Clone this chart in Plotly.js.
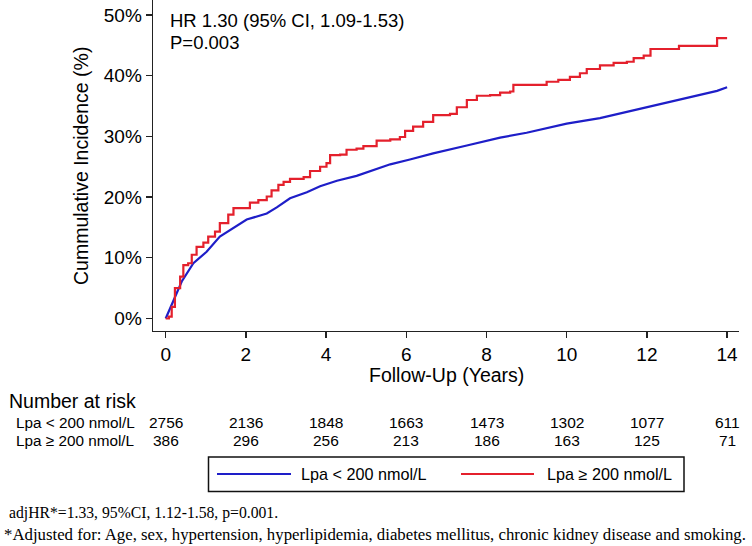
<!DOCTYPE html>
<html>
<head>
<meta charset="utf-8">
<script src="https://cdn.plot.ly/plotly-3.0.1.min.js"></script>
<style>html,body{margin:0;padding:0;background:#fff;}#chart{width:752px;height:546px;}</style>
</head>
<body>
<div id="chart"></div>
<script>
// ---- data ----
const groupNames = ["Lpa < 200 nmol/L", "Lpa \u2265 200 nmol/L"];

const lowT = [0, 0.19, 0.40, 0.69, 1.02, 1.35, 1.69, 2.02, 2.52, 2.77, 3.10, 3.52, 3.85, 4.27, 4.76, 5.26, 5.60, 6.09, 6.67, 7.51, 8.34, 9.0, 9.58, 10.0, 10.83, 11.67, 12.17, 12.5, 13.33, 13.75, 14.0];
const lowY = [0, 3.0, 6.1, 9.1, 11.0, 13.5, 14.9, 16.3, 17.3, 18.3, 19.8, 20.8, 21.8, 22.7, 23.5, 24.7, 25.4, 26.2, 27.2, 28.5, 29.8, 30.6, 31.5, 32.1, 33.0, 34.3, 35.0, 35.6, 36.9, 37.5, 38.1];

const highT = [0, 0.08, 0.15, 0.23, 0.36, 0.44, 0.56, 0.65, 0.77, 0.94, 1.06, 1.23, 1.35, 1.56, 1.69, 2.10, 2.31, 2.52, 2.64, 2.81, 2.94, 3.10, 3.44, 3.60, 3.85, 4.01, 4.10, 4.35, 4.51, 4.76, 4.93, 5.26, 5.60, 5.84, 5.97, 6.17, 6.42, 6.67, 7.09, 7.26, 7.51, 7.76, 8.09, 8.34, 8.59, 8.67, 9.50, 9.79, 10.08, 10.33, 10.50, 10.83, 11.17, 11.50, 11.67, 11.92, 12.09, 12.80, 13.75, 14.0];
const highY = [0, 0.3, 1.9, 5.0, 6.9, 8.8, 9.1, 10.5, 11.8, 12.5, 13.5, 14.3, 15.7, 17.1, 18.2, 19.1, 19.5, 20.1, 21.1, 22.0, 22.5, 23.0, 23.3, 24.3, 25.0, 25.6, 26.9, 27.0, 27.8, 28.0, 28.4, 29.3, 29.5, 29.9, 30.9, 31.6, 32.4, 33.5, 33.7, 34.8, 36.0, 36.7, 36.8, 37.2, 37.4, 38.5, 39.0, 39.3, 39.8, 40.4, 41.1, 41.7, 42.1, 42.3, 42.9, 43.3, 44.4, 44.9, 46.2, 46.2];

const xTicks = [0, 2, 4, 6, 8, 10, 12, 14];
const yTicks = [0, 10, 20, 30, 40, 50];
const riskTimes = [0, 2, 4, 6, 8, 10, 12, 14];
const riskLow = [2756, 2136, 1848, 1663, 1473, 1302, 1077, 611];
const riskHigh = [386, 296, 256, 213, 186, 163, 125, 71];

const hrText = "HR 1.30 (95% CI, 1.09-1.53)";
const pText = "P=0.003";
const yTitle = "Cummulative Incidence (%)";
const xTitle = "Follow-Up (Years)";
const riskTitle = "Number at risk";
const foot1 = "adjHR*=1.33, 95%CI, 1.12-1.58, p=0.001.";
const foot2 = "*Adjusted for: Age, sex, hypertension, hyperlipidemia, diabetes mellitus, chronic kidney disease and smoking.";

// ---- layout helpers ----
const W = 752, H = 546;
const L = 153, R = 739, T = 0, B = 331;
const colBlue = "#1e1ec8", colRed = "#e4202c";
const sans = "Liberation Sans, Arial, sans-serif";
const serif = "Liberation Serif, Times New Roman, serif";
const px = v => (v - L) / (R - L);
const py = v => (B - v) / (B - T);

const traces = [
  {x: lowT, y: lowY, mode: "lines", line: {color: colBlue, width: 2.2}, name: groupNames[0], showlegend: false, hoverinfo: "skip"},
  {x: highT, y: highY, mode: "lines", line: {color: colRed, width: 2.2, shape: "hv"}, name: groupNames[1], showlegend: false, hoverinfo: "skip"}
];

const ann = [];
ann.push({xref: "paper", yref: "paper", x: px(168), y: py(20), xanchor: "left", yanchor: "middle", text: hrText, showarrow: false, font: {family: sans, size: 18.5, color: "#000"}});
ann.push({xref: "paper", yref: "paper", x: px(168), y: py(42), xanchor: "left", yanchor: "middle", text: pText, showarrow: false, font: {family: sans, size: 18.5, color: "#000"}});
ann.push({xref: "paper", yref: "paper", x: px(81), y: py(166), xanchor: "center", yanchor: "middle", textangle: -90, text: yTitle, showarrow: false, font: {family: sans, size: 19.5, color: "#000"}});
ann.push({xref: "paper", yref: "paper", x: px(446), y: py(375), xanchor: "center", yanchor: "middle", text: xTitle, showarrow: false, font: {family: sans, size: 19.5, color: "#000"}});
ann.push({xref: "paper", yref: "paper", x: px(7), y: py(401), xanchor: "left", yanchor: "middle", text: riskTitle, showarrow: false, font: {family: sans, size: 19.5, color: "#000"}});
const rowY = [422, 440];
const rows = [riskLow, riskHigh];
rows.forEach((vals, r) => {
  ann.push({xref: "paper", yref: "paper", x: px(14), y: py(rowY[r]), xanchor: "left", yanchor: "middle", text: groupNames[r], showarrow: false, font: {family: sans, size: 15.3, color: "#000"}});
  vals.forEach((v, i) => {
    ann.push({xref: "x", yref: "paper", x: riskTimes[i], y: py(rowY[r]), xanchor: "center", yanchor: "middle", text: String(v), showarrow: false, font: {family: sans, size: 15.5, color: "#000"}});
  });
});
// legend (manual, to match the long sample lines)
const legY = 474;
ann.push({xref: "paper", yref: "paper", x: px(299), y: py(legY), xanchor: "left", yanchor: "middle", text: groupNames[0], showarrow: false, font: {family: sans, size: 16.2, color: "#000"}});
ann.push({xref: "paper", yref: "paper", x: px(545), y: py(legY), xanchor: "left", yanchor: "middle", text: groupNames[1], showarrow: false, font: {family: sans, size: 16.2, color: "#000"}});
ann.push({xref: "paper", yref: "paper", x: px(7), y: py(513), xanchor: "left", yanchor: "middle", text: foot1, showarrow: false, font: {family: serif, size: 15.7, color: "#000"}});
ann.push({xref: "paper", yref: "paper", x: px(1.5), y: py(534), xanchor: "left", yanchor: "middle", text: foot2, showarrow: false, font: {family: serif, size: 16.8, color: "#000"}});

const shapes = [
  {type: "rect", xref: "paper", yref: "paper", x0: px(208.5), x1: px(684), y0: py(457), y1: py(491.5), line: {color: "#111", width: 1.5}, fillcolor: "rgba(0,0,0,0)"},
  {type: "line", xref: "paper", yref: "paper", x0: px(217), x1: px(291), y0: py(legY), y1: py(legY), line: {color: colBlue, width: 2.2}},
  {type: "line", xref: "paper", yref: "paper", x0: px(461), x1: px(534), y0: py(legY), y1: py(legY), line: {color: colRed, width: 2.2}}
];

const layout = {
  width: W, height: H,
  margin: {l: L, r: W - R, t: T, b: H - B, pad: 0},
  paper_bgcolor: "#fff", plot_bgcolor: "#fff",
  showlegend: false,
  xaxis: {
    range: [(L - 165.7) / 40.1, (R - 165.7) / 40.1],
    tickvals: xTicks, ticktext: xTicks.map(String),
    showgrid: false, zeroline: false,
    showline: true, linecolor: "#222", linewidth: 1.4,
    ticks: "outside", ticklen: 6, tickwidth: 1.4, tickcolor: "#222",
    tickfont: {family: sans, size: 19, color: "#000"}
  },
  yaxis: {
    range: [-(B - 318.5) / 6.07, 318.5 / 6.07],
    tickvals: yTicks, ticktext: yTicks.map(v => v + "%"),
    showgrid: false, zeroline: false,
    showline: true, linecolor: "#222", linewidth: 1.4,
    ticks: "outside", ticklen: 6, tickwidth: 1.4, tickcolor: "#222",
    tickfont: {family: sans, size: 19, color: "#000"}
  },
  annotations: ann,
  shapes: shapes
};

Plotly.newPlot("chart", traces, layout, {staticPlot: true, displayModeBar: false});
</script>
</body>
</html>
